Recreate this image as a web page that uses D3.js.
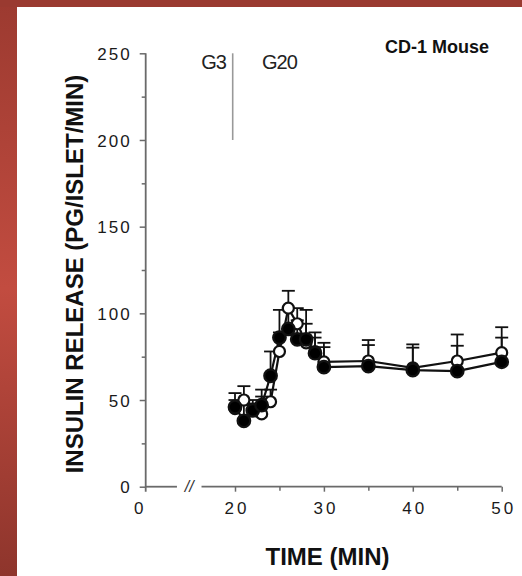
<!DOCTYPE html>
<html><head><meta charset="utf-8">
<script src="https://cdn.jsdelivr.net/npm/d3@7"></script>
<style>body{margin:0;background:#fff}svg{display:block}</style>
</head><body>
<svg id="chart" width="522" height="576"></svg>
<script>
// ---- data ----
const times       = [20, 21, 22, 23, 24, 25, 26, 27, 28, 29, 30, 35, 40, 45, 50];
const filledMean  = [46, 38, 44, 47, 64, 86, 91, 85, 85, 77, 69, 69.6, 67.3, 66.7, 72];
const filledUpper = [54, 47, 50, 52, 78, 102, 103, 96, 94, 86, 80.5, 81.7, 80.2, 81.3, 86];
const openMean    = [45, 50, 44, 42, 49, 78, 103, 94, 83, 78, 72, 72.5, 68.6, 72.5, 77.3];
const openUpper   = [50, 58, 48, 56, 56, 89, 113, 103, 102, 89, 83, 84.6, 82.1, 87.8, 92];
const yMajorTicks = [0, 50, 100, 150, 200, 250];
const yMinorTicks = [25, 75, 125, 175, 225];
const xMajorTicks = [0, 20, 30, 40, 50];
const xMinorTicks = [25, 35, 45];
const xDomainKnots = [0, 20, 50];
const axisBreak = [7, 12.5];      // gap in the x axis (minutes, on the compressed part)
const glucoseSwitch = 20;         // G3 -> G20
const switchTop = 250, switchBottom = 200;

// ---- setup ----
const svg = d3.select("#chart");
const W = 522, H = 576;
const defs = svg.append("defs");
const gl = defs.append("linearGradient").attr("id","redL").attr("x1",0).attr("y1",0).attr("x2",0).attr("y2",1);
gl.append("stop").attr("offset","0%").attr("stop-color","#9c3a30");
gl.append("stop").attr("offset","50%").attr("stop-color","#c24c40");
gl.append("stop").attr("offset","100%").attr("stop-color","#8e352c");
svg.append("rect").attr("width",W).attr("height",H).attr("fill","#fff");
svg.append("rect").attr("x",0).attr("y",0).attr("width",17).attr("height",H).attr("fill","url(#redL)");
svg.append("rect").attr("x",0).attr("y",0).attr("width",W).attr("height",7).attr("fill","#9a3a30");

const x = d3.scaleLinear().domain(xDomainKnots).range([145.7, 235, 501.7]);
const y = d3.scaleLinear().domain([0, 250]).range([486.7, 53.3]);

const axisColor = "#6a6a6a";
const font = "'Liberation Sans', Arial, Helvetica, sans-serif";

// ---- y axis ----
const gy = svg.append("g").attr("transform", `translate(${x(0)},0)`);
gy.call(d3.axisLeft(y).tickValues(yMajorTicks).tickSize(6).tickSizeOuter(0).tickPadding(8).tickFormat(d3.format("d")));
gy.call(g => g.select(".domain").remove());
gy.selectAll(".tick line").attr("stroke", axisColor).attr("stroke-width", 1.5);
gy.selectAll(".tick text").attr("font-family", font).attr("font-size", 17).attr("fill", "#1a1a1a")
  .style("letter-spacing", "2px").attr("dy", "0.36em");
const gyMinor = svg.append("g").attr("transform", `translate(${x(0)},0)`);
gyMinor.call(d3.axisLeft(y).tickValues(yMinorTicks).tickSize(4).tickFormat(""));
gyMinor.call(g => g.select(".domain").remove());
gyMinor.selectAll(".tick line").attr("stroke", axisColor).attr("stroke-width", 1.5);
svg.append("line").attr("x1", x(0)).attr("x2", x(0)).attr("y1", y(250)).attr("y2", y(0) + 5)
  .attr("stroke", axisColor).attr("stroke-width", 1.8);

// ---- x axis ----
svg.append("line").attr("x1", x(0)).attr("x2", x(axisBreak[0])).attr("y1", y(0)).attr("y2", y(0))
  .attr("stroke", axisColor).attr("stroke-width", 1.8);
svg.append("line").attr("x1", x(axisBreak[1])).attr("x2", x(50)).attr("y1", y(0)).attr("y2", y(0))
  .attr("stroke", axisColor).attr("stroke-width", 1.8);
svg.append("text").attr("x", (x(axisBreak[0]) + x(axisBreak[1])) / 2).attr("y", y(0)).attr("dy", "0.36em")
  .attr("text-anchor", "middle").attr("font-family", font).attr("font-style","italic").attr("font-size", 16).attr("fill", "#333").text("//");

const gx = svg.append("g").attr("transform", `translate(0,${y(0)})`);
gx.call(d3.axisBottom(x).tickValues(xMajorTicks).tickSize(5).tickPadding(16).tickFormat(d3.format("d")));
gx.call(g => g.select(".domain").remove());
gx.selectAll(".tick line").attr("stroke", axisColor).attr("stroke-width", 1.5)
  .attr("visibility", d => d === 0 ? "hidden" : "visible");
gx.selectAll(".tick text").attr("font-family", font).attr("font-size", 17).attr("fill", "#1a1a1a")
  .style("letter-spacing", "3px").attr("dy", "0.36em")
  .attr("dx", d => d === 0 ? -6 : 1.5);
const gxMinor = svg.append("g").attr("transform", `translate(0,${y(0)})`);
gxMinor.call(d3.axisBottom(x).tickValues(xMinorTicks).tickSize(4).tickFormat(""));
gxMinor.call(g => g.select(".domain").remove());
gxMinor.selectAll(".tick line").attr("stroke", axisColor).attr("stroke-width", 1.5);

// ---- axis titles ----
svg.append("text").attr("transform", "translate(83,274) rotate(-90)").attr("text-anchor", "middle")
  .attr("font-family", font).attr("font-weight", "bold").attr("font-size", 24).attr("fill", "#111")
  .text("INSULIN RELEASE (PG/ISLET/MIN)");
svg.append("text").attr("x", 327.5).attr("y", 565).attr("text-anchor", "middle")
  .attr("font-family", font).attr("font-weight", "bold").attr("font-size", 24).attr("fill", "#111")
  .text("TIME (MIN)");

// ---- annotations ----
svg.append("line").attr("x1", x(glucoseSwitch) - 2.3).attr("x2", x(glucoseSwitch) - 2.3)
  .attr("y1", y(switchTop)).attr("y2", y(switchBottom)).attr("stroke", "#999").attr("stroke-width", 1.6);
svg.append("text").attr("x", 226).attr("y", 69).attr("text-anchor", "end")
  .attr("font-family", font).attr("font-size", 20).attr("fill", "#222").style("letter-spacing","-1px").text("G3");
svg.append("text").attr("x", 262).attr("y", 69)
  .attr("font-family", font).attr("font-size", 20).attr("fill", "#222").style("letter-spacing","-1px").text("G20");
svg.append("text").attr("x", 385).attr("y", 53)
  .attr("font-family", font).attr("font-weight", "bold").attr("font-size", 18).attr("fill", "#111").text("CD-1 Mouse");

// ---- data marks ----
const series = [
  {mean: openMean, upper: openUpper, fill: "#fff"},
  {mean: filledMean, upper: filledUpper, fill: "#000"}
];
const line = d3.line().x(d => x(d.t)).y(d => y(d.v));
const ptsOf = s => times.map((t, i) => ({t, v: s.mean[i], u: s.upper[i]}));

// error bars
series.forEach(s => {
  const g = svg.append("g").attr("stroke", "#111").attr("stroke-width", 1.8);
  ptsOf(s).forEach(p => {
    g.append("line").attr("x1", x(p.t)).attr("x2", x(p.t)).attr("y1", y(p.v)).attr("y2", y(p.u));
    g.append("line").attr("x1", x(p.t) - 6.5).attr("x2", x(p.t) + 6.5).attr("y1", y(p.u)).attr("y2", y(p.u));
  });
});
// lines
series.forEach(s => {
  svg.append("path").datum(ptsOf(s)).attr("d", line).attr("fill", "none").attr("stroke", "#111").attr("stroke-width", 2.2);
});
// markers
series.forEach(s => {
  svg.append("g").selectAll("circle").data(ptsOf(s)).join("circle")
    .attr("cx", d => x(d.t)).attr("cy", d => y(d.v)).attr("r", s.fill === "#000" ? 6.3 : 5.5)
    .attr("fill", s.fill).attr("stroke", "#111").attr("stroke-width", 2.2);
});
</script>
</body></html>
